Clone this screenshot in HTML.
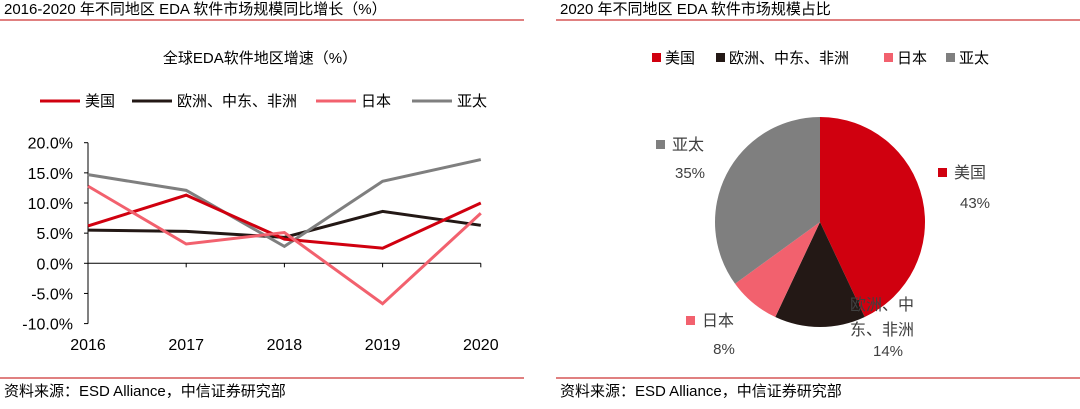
<!DOCTYPE html>
<html><head><meta charset="utf-8"><style>
body{margin:0;width:1080px;height:404px;background:#fff;font-family:"Liberation Sans","Noto Sans CJK SC",sans-serif;overflow:hidden}
svg text{font-family:"Liberation Sans","Noto Sans CJK SC",sans-serif}
</style></head><body>
<svg width="1080" height="404">
<g>
<text x="4" y="14" font-size="15" fill="#000">2016-2020 年不同地区 EDA 软件市场规模同比增长（%）</text>
<line x1="0" y1="20" x2="524" y2="20" stroke="#c00000" stroke-width="1"/>
</g>
<g>
<text x="560" y="14" font-size="15" fill="#000">2020 年不同地区 EDA 软件市场规模占比</text>
<line x1="556" y1="20" x2="1080" y2="20" stroke="#c00000" stroke-width="1"/>
</g>
<text x="260" y="63" font-size="15" text-anchor="middle">全球EDA软件地区增速（%）</text>
<g id="legendL"></g>
<g id="axes"></g>
<g id="lines"></g>
<g id="pleg"></g>
<g id="pie"></g>
<g>
<line x1="0" y1="378" x2="524" y2="378" stroke="#c00000"/>
<line x1="556" y1="378" x2="1080" y2="378" stroke="#c00000"/>
<text x="4" y="396" font-size="15">资料来源：ESD Alliance，中信证券研究部</text>
<text x="560" y="396" font-size="15">资料来源：ESD Alliance，中信证券研究部</text>
</g>
</svg>
<script>
const years=["2016","2017","2018","2019","2020"];
const seriesNames=["美国","欧洲、中东、非洲","日本","亚太"];
const usa=[6.2,11.3,4.0,2.5,10.0];
const emea=[5.5,5.3,4.3,8.6,6.3];
const japan=[12.8,3.2,5.1,-6.7,8.3];
const apac=[14.7,12.1,2.8,13.6,17.2];
const yTicks=[20,15,10,5,0,-5,-10];
const pieLabels=["美国","欧洲、中东、非洲","日本","亚太"];
const pieValues=[43,14,8,35];
const colors=["#d0000f","#231815","#f2616e","#7f7f7f"];
const NS="http://www.w3.org/2000/svg";
function mk(t,a,p){const e=document.createElementNS(NS,t);for(const k in a)e.setAttribute(k,a[k]);p.appendChild(e);return e;}
const X=i=>88+i*98.2, Y=v=>263.3-v*6.03;
const ax=document.getElementById('axes');
let a=mk('line',{x1:88,y1:Y(20),x2:88,y2:Y(-10),stroke:'#000'},ax);

a=mk('line',{x1:88,y1:Y(0),x2:X(4),y2:Y(0),stroke:'#000'},ax);

yTicks.forEach(v=>{mk('line',{x1:84,x2:88,y1:Y(v),y2:Y(v),stroke:'#000'},ax);
const t=mk('text',{x:73,y:Y(v)+6,'font-size':16,'text-anchor':'end'},ax);t.textContent=v.toFixed(1)+'%';
});
years.forEach((y,i)=>{if(i>0)mk('line',{x1:X(i),x2:X(i),y1:Y(0),y2:Y(0)+4,stroke:'#000'},ax);
const t=mk('text',{x:X(i),y:350,'font-size':16,'text-anchor':'middle'},ax);t.textContent=y;
});
const ln=document.getElementById('lines');
[emea,apac,usa,japan].forEach((s,k)=>{const ci=[1,3,0,2][k];
const p=mk('polyline',{points:s.map((v,i)=>X(i)+','+Y(v)).join(' '),fill:'none',stroke:colors[ci],'stroke-width':3},ln);
});
const lg=document.getElementById('legendL');
const lx=[40,132,316,412];
seriesNames.forEach((n,i)=>{mk('line',{x1:lx[i],x2:lx[i]+40,y1:101,y2:101,stroke:colors[i],'stroke-width':3},lg);
const t=mk('text',{x:lx[i]+45,y:106,'font-size':15},lg);t.textContent=n;
});
const pl=document.getElementById('pleg');const px=[652,716,884,946];
pieLabels.forEach((n,i)=>{mk('rect',{x:px[i],y:53,width:9,height:9,fill:colors[i]},pl);
const t=mk('text',{x:px[i]+13,y:63,'font-size':15},pl);t.textContent=n;
});
const pg=document.getElementById('pie');const cx=820,cy=222,r=105;
const tot=pieValues.reduce((a,b)=>a+b,0);let ang=0;
pieValues.forEach((v,i)=>{const a0=ang,a1=ang+v/tot*2*Math.PI;ang=a1;
const p0=[cx+r*Math.sin(a0),cy-r*Math.cos(a0)],p1=[cx+r*Math.sin(a1),cy-r*Math.cos(a1)];
const s=mk('path',{d:`M${cx},${cy}L${p0}A${r},${r} 0 ${a1-a0>Math.PI?1:0} 1 ${p1}Z`,fill:colors[i]},pg);
});
const labs=[[938,172,[pieLabels[0]],975,208],[850,304,["欧洲、中","东、非洲"],888,356],[686,320,[pieLabels[2]],724,354],[656,144,[pieLabels[3]],690,178]];
labs.forEach((L,i)=>{mk('rect',{x:L[0],y:L[1]-4,width:9,height:9,fill:colors[i]},pg);
L[2].forEach((s,j)=>{const t=mk('text',{x:i==1?L[0]:L[0]+16,y:L[1]+6+j*25,'font-size':16,fill:'#404040'},pg);t.textContent=s;
});
const t=mk('text',{x:L[3],y:L[4],'font-size':15,fill:'#404040','text-anchor':'middle'},pg);t.textContent=pieValues[i]+'%';
});
</script>
</body></html>
